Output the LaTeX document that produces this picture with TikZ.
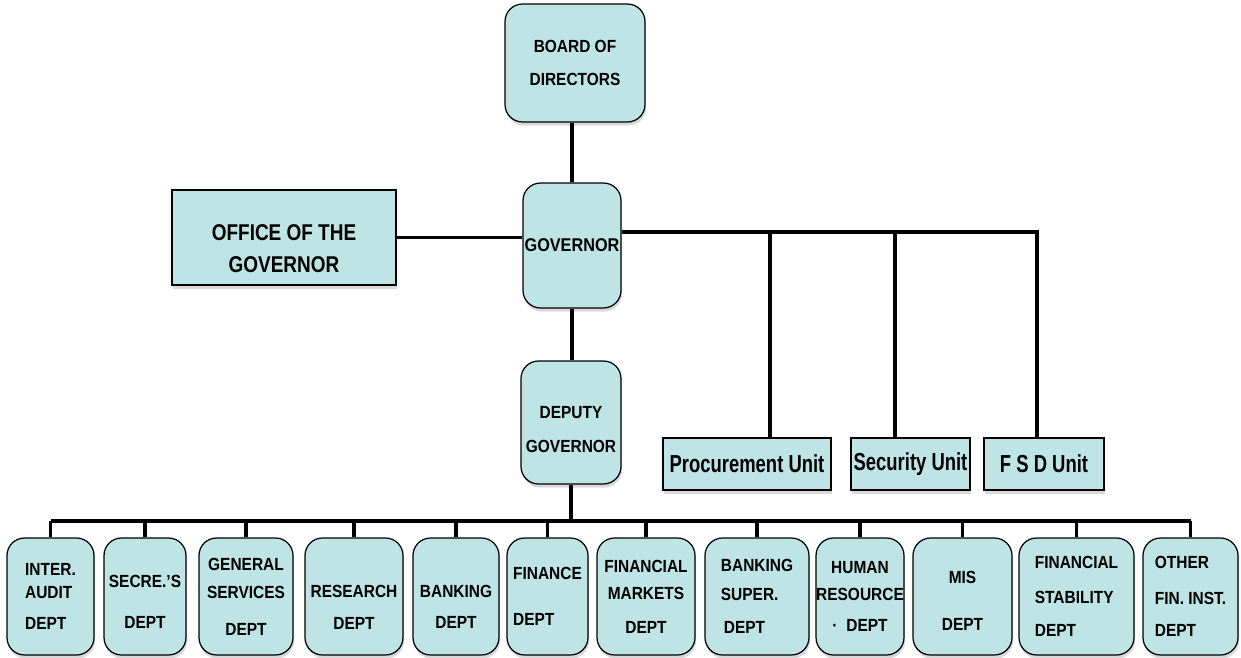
\documentclass[tikz,border=0pt]{standalone}
\usepackage{fontspec}
\setmainfont{Liberation Sans}
\newfontfamily\cond{Liberation Sans}[FakeStretch=0.88]
\newfontfamily\officefont{Liberation Sans}[FakeStretch=0.83]
\newfontfamily\narrow{Liberation Sans}[FakeStretch=0.75]
\usepackage{xcolor}
\usepackage{tikz}
\usetikzlibrary{shapes.geometric, arrows, positioning, shadows}
\definecolor{boxcyan}{RGB}{190,228,230}
% strut on the first line, pushes the text down in its box
\newcommand{\txtdown}[1]{\rule{0pt}{#1}}
\tikzstyle{roundbox} = [rectangle, rounded corners=0.35cm, draw=black, line width=0.7pt, fill=boxcyan, text centered, drop shadow={opacity=0.3, shadow xshift=0.6pt, shadow yshift=-2pt}]
\tikzstyle{flatbox} = [rectangle, draw=black, line width=0.7pt, fill=boxcyan, text centered, drop shadow={opacity=0.3, shadow xshift=0.6pt, shadow yshift=-2pt}]
\tikzstyle{head} = [roundbox, inner sep=0pt, align=center, font=\cond\bfseries\fontsize{10}{16}\selectfont]
\tikzstyle{dept} = [roundbox, minimum height=2.34cm, inner sep=0pt, align=center, font=\cond\bfseries\fontsize{10}{16}\selectfont]
\tikzstyle{unit} = [flatbox, minimum height=1.04cm, inner sep=0pt, font=\narrow\bfseries\fontsize{14}{16}\selectfont]
\tikzstyle{link} = [line width=2pt]

\begin{document}
\begin{tikzpicture}[x=0.02cm, y=-0.02cm]
\useasboundingbox (0,0) rectangle (1241,657);

\node (board) [head, minimum width=2.8cm, minimum height=2.36cm] at (575,63) {BOARD OF\\[2.7pt]DIRECTORS};
\node (governor) [head, minimum width=1.96cm, minimum height=2.5cm, font=\cond\bfseries\fontsize{10.5}{16}\selectfont] at (572,245.5) {GOVERNOR};
\node (office) [flatbox, minimum width=4.48cm, minimum height=1.9cm, inner sep=0pt, align=center, font=\officefont\bfseries\fontsize{13}{18.7}\selectfont] at (284,237.5) {\txtdown{21.8pt}OFFICE OF THE\\GOVERNOR};
\node (deputy) [head, minimum width=2cm, minimum height=2.46cm] at (571,422.5) {\txtdown{14.6pt}DEPUTY\\[3.3pt]GOVERNOR};

\node (procure) [unit, minimum width=3.36cm] at (747,464) {Procurement Unit};
\node (security) [unit, minimum width=2.38cm] at (910.5,464) {Security Unit};
\node (fsd) [unit, minimum width=2.4cm] at (1044,464) {F S D Unit};

% departments under the deputy governor
\node (audit) [dept, minimum width=1.74cm, align=left] at (50.5,596.5) {INTER.\\[-3pt]AUDIT\\[1.6pt]DEPT};
\node (secre) [dept, minimum width=1.64cm] at (145,596.5) {\txtdown{12.9pt}SECRE.’S\\[7.2pt]DEPT};
\node (gensvc) [dept, minimum width=1.88cm] at (246,596.5) {GENERAL\\SERVICES\\[5pt]DEPT};
\node (research) [dept, minimum width=1.96cm] at (354,596.5) {\txtdown{19.1pt}RESEARCH\\[2pt]DEPT};
\node (banking) [dept, minimum width=1.72cm] at (456,596.5) {\txtdown{18.5pt}BANKING\\[1.6pt]DEPT};
\node (finance) [dept, minimum width=1.62cm, align=left] at (547.5,596.5) {FINANCE\\[10pt]DEPT};
\node (finmkt) [dept, minimum width=1.96cm] at (646,596.5) {FINANCIAL\\[-0.7pt]MARKETS\\[3.3pt]DEPT};
\node (banksup) [dept, minimum width=2.08cm, align=left] at (757,596.5) {BANKING\\[0.4pt]SUPER.\\[2.7pt]\,DEPT};
\node (hr) [dept, minimum width=1.76cm] at (860,596.5) {HUMAN\\[-0.7pt]RESOURCE\\[1.6pt]·\hspace{0.5em}DEPT\hspace{0.9em}};
\node (mis) [dept, minimum width=1.98cm] at (962.5,596.5) {\txtdown{11.7pt}MIS\\[10.7pt]DEPT};
\node (finstab) [dept, minimum width=2.3cm, align=left] at (1076.5,596.5) {FINANCIAL\\[3.8pt]STABILITY\\[3.3pt]DEPT};
\node (otherfi) [dept, minimum width=1.9cm, align=left] at (1190.5,596.5) {OTHER\\[4.4pt]FIN. INST.\\[2.7pt]DEPT};

% main line
\draw [link] (governor.north |- board.south) -- (governor.north);
\draw [link] (office.east) -- (office.east -| governor.west);
\draw [link] (governor.south) -- (governor.south |- deputy.north);

% units on the right
\coordinate (rail) at ([yshift=0.27cm]governor.east);
\coordinate (procTop) at ([xshift=0.46cm]procure.north);
\coordinate (secTop) at ([xshift=-0.31cm]security.north);
\coordinate (fsdTop) at ([xshift=-0.14cm]fsd.north);
\draw [link] (rail) -| (fsdTop);
\draw [link] (procTop) -- (procTop |- rail);
\draw [link] (secTop) -- (secTop |- rail);

% bus to the departments
\coordinate (bus) at (571,521);
\draw [link] (deputy.south) -- (deputy.south |- bus);
\draw [link] (audit.north |- bus) -- (otherfi.north |- bus);
\foreach \d in {audit,secre,gensvc,research,banking,finance,finmkt,banksup,hr,mis,finstab,otherfi}
  \draw [link] (\d.north) -- (\d.north |- bus);

\end{tikzpicture}
\end{document}
